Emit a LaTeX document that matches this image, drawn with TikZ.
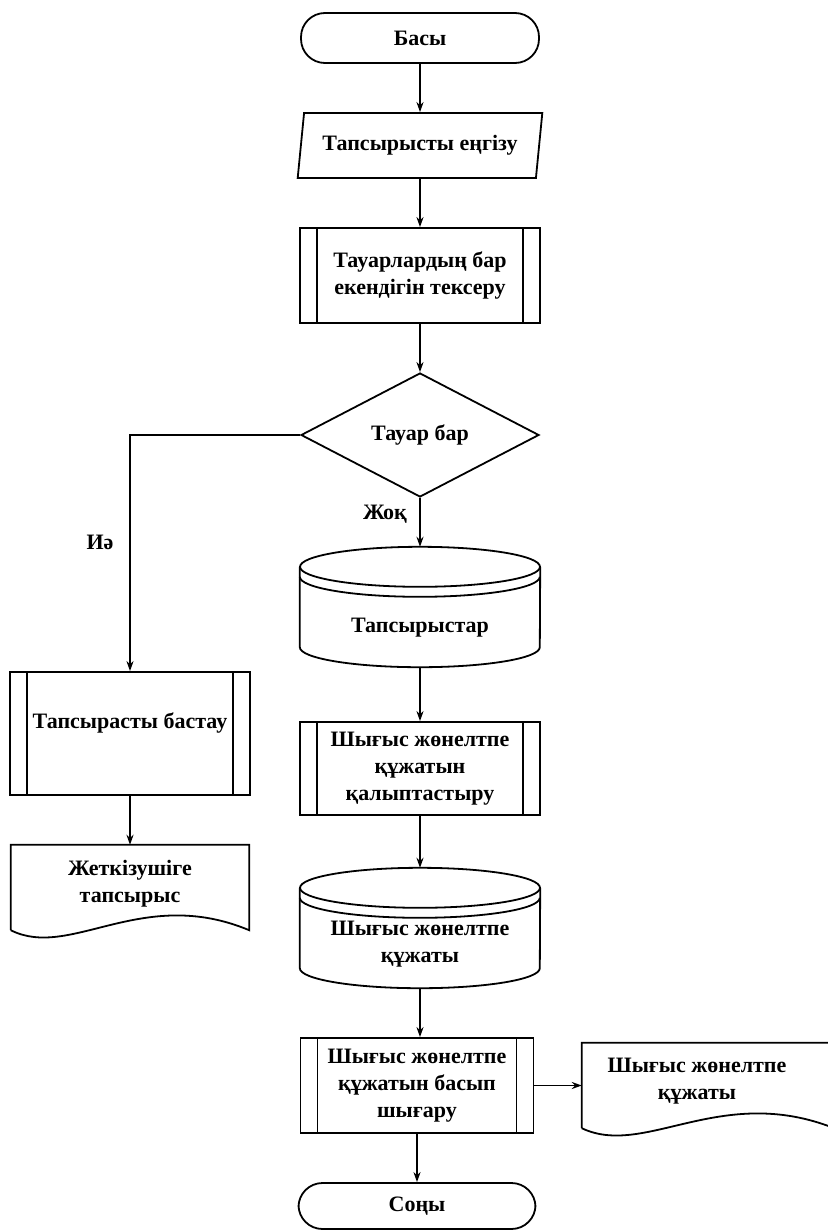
\documentclass[tikz,border=0pt]{standalone}
\usepackage{fontspec}
\setmainfont{Liberation Serif}
\usetikzlibrary{shapes.geometric, arrows.meta, calc}

\begin{document}
\begin{tikzpicture}[x=1pt, y=1pt,
  ln/.style={line width=1.8pt, draw=black},
  arr/.style={ln, -{Stealth[length=10pt,width=7pt]}},
  txt/.style={font=\bfseries\fontsize{22}{27}\selectfont, align=center, inner sep=0pt},
  term/.style={txt, ln, rectangle, rounded corners=24pt, minimum width=238pt, minimum height=50pt},
  io/.style={txt, ln, trapezium, trapezium left angle=75, trapezium right angle=105,
    trapezium stretches=true, minimum width=245pt, minimum height=65pt},
  proc/.style={txt, ln, rectangle, minimum width=240pt, minimum height=95pt,
    path picture={
      \draw[ln] ([xshift=17pt]path picture bounding box.north west) -- ([xshift=17pt]path picture bounding box.south west);
      \draw[ln] ([xshift=-17pt]path picture bounding box.north east) -- ([xshift=-17pt]path picture bounding box.south east);}},
  decide/.style={txt, ln, diamond, minimum width=238pt, minimum height=124pt},
  dbase/.style={rectangle, minimum width=240pt, minimum height=120pt, inner sep=0pt},
  docshape/.style={rectangle, minimum height=85pt, inner sep=0pt},
]
\useasboundingbox (0,0) rectangle (827,-1231);

% main column
\node[term] (start) at (420,-38) {Басы};
\node[io] (input) at (420,-145.5) {Тапсырысты еңгізу};
\node[proc] (check) at (420,-275.5) {Тауарлардың бар\\екендігін тексеру};
\node[decide] (avail) at (420,-435) {Тауар бар};
\node[dbase] (orders) at (420,-607) {};
\node[txt] (orderstxt) at (420,-628) {Тапсырыстар};
\node[proc, minimum height=93pt] (form) at (420,-768.5) {Шығыс жөнелтпе\\құжатын\\қалыптастыру};
\node[dbase] (waybill) at (420,-928) {};
\node[txt] (waybilltxt) at (420,-944) {Шығыс жөнелтпе\\құжаты};
\node[proc, minimum width=233pt] (print) at (417,-1085.5) {Шығыс жөнелтпе\\құжатын басып\\шығару};
\node[term, minimum width=237pt, minimum height=46pt] (stop) at (417,-1206) {Соңы};

% left branch
\node[proc, minimum height=123pt] (begin) at (130,-733.5) {\raisebox{5pt}[0pt][0pt]{Тапсырасты бастау}};
\node[docshape, minimum width=238pt] (supplier) at (130,-887.5) {};
\node[txt] (suppliertxt) at (130,-884) {Жеткізушіге\\тапсырыс};

% printed output
\node[docshape, minimum width=252pt] (printout) at (708,-1085.5) {};
\node[txt] (printouttxt) at (697,-1081) {Шығыс жөнелтпе\\құжаты};

% database cylinders with a doubled top rim
\foreach \n in {orders,waybill}{
  \draw[ln] ($(\n.north)+(0,-20)$) ellipse [x radius=120, y radius=20];
  \draw[ln] ($(\n.north west)+(0,-30)$) arc[start angle=180, end angle=360, x radius=120, y radius=20];
  \draw[ln] ($(\n.north west)+(0,-20)$) -- ($(\n.south west)+(0,20)$)
    arc[start angle=180, end angle=360, x radius=120, y radius=20] -- ($(\n.north east)+(0,-20)$);
}

% document outlines with a wavy bottom edge
\foreach \n/\w in {supplier/238, printout/252}{
  \draw[ln] (\n.south west) -- (\n.north west) -- (\n.north east) -- (\n.south east)
    .. controls ($(\n.south west)+(0.55*\w,45)$) and ($(\n.south west)+(0.25*\w,-30)$) .. (\n.south west);
}

% connectors
\draw[arr] (start) -- (input);
\draw[arr] (input) -- (check);
\draw[arr] (check) -- (avail);
\draw[arr] (avail) -- (orders);
\node[txt] (nolbl) at (385,-514) {Жоқ};
\draw[arr] (avail.west) -| (begin.north);
\node[txt] (yeslbl) at (100,-542) {Иә};
\draw[arr] (begin) -- (supplier);
\draw[arr] (orders) -- (form);
\draw[arr] (form) -- (waybill);
\draw[arr] (waybill.south) -- (waybill.south |- print.north);
\draw[arr] (print) -- (stop);
\draw[arr] (print) -- (printout);
\end{tikzpicture}
\end{document}
